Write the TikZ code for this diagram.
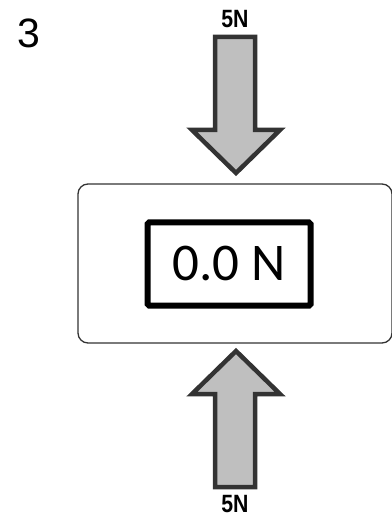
\documentclass[tikz,border=0pt]{standalone}
\usepackage{fontspec}
\setmainfont{Liberation Sans}
\newfontfamily\readout{Carlito}
\tikzset{
  force/.style={draw=black!80, line width=4.5pt, fill=black!25, line join=miter},
  forcelabel/.style={font=\bfseries\fontsize{25}{25}\selectfont, inner sep=0pt, xscale=0.85},
  body/.style={draw=black!80, line width=1.3pt, rounded corners=10pt},
  display/.style={draw=black, line width=6pt, rounded corners=1.5pt, fill=white}
}
\begin{document}
\begin{tikzpicture}[x=1pt,y=-1pt]
  \useasboundingbox (0,0) rectangle (391,518);
  % panel number
  \node[inner sep=0pt, font=\fontsize{41}{41}\selectfont] (num) at (29,33) {3};
  % body with the force readout
  \draw[body] (78,184) rectangle (392,343);
  \node[display, minimum width=163pt, minimum height=83pt,
        font=\readout\fontsize{53}{53}\selectfont] (meter) at (229,264) {0.0 N};
  % pushing force from above
  \draw[force] (215,37) -- (255,37) -- (255,130) -- (280,130) -- (236,173)
        -- (192,130) -- (215,130) -- cycle;
  \node[forcelabel] (topf) at (235,19) {5N};
  % pushing force from below
  \draw[force] (215,487) -- (255,487) -- (255,394) -- (280,394) -- (236,351)
        -- (192,394) -- (215,394) -- cycle;
  \node[forcelabel] (botf) at (235,504) {5N};
\end{tikzpicture}
\end{document}
